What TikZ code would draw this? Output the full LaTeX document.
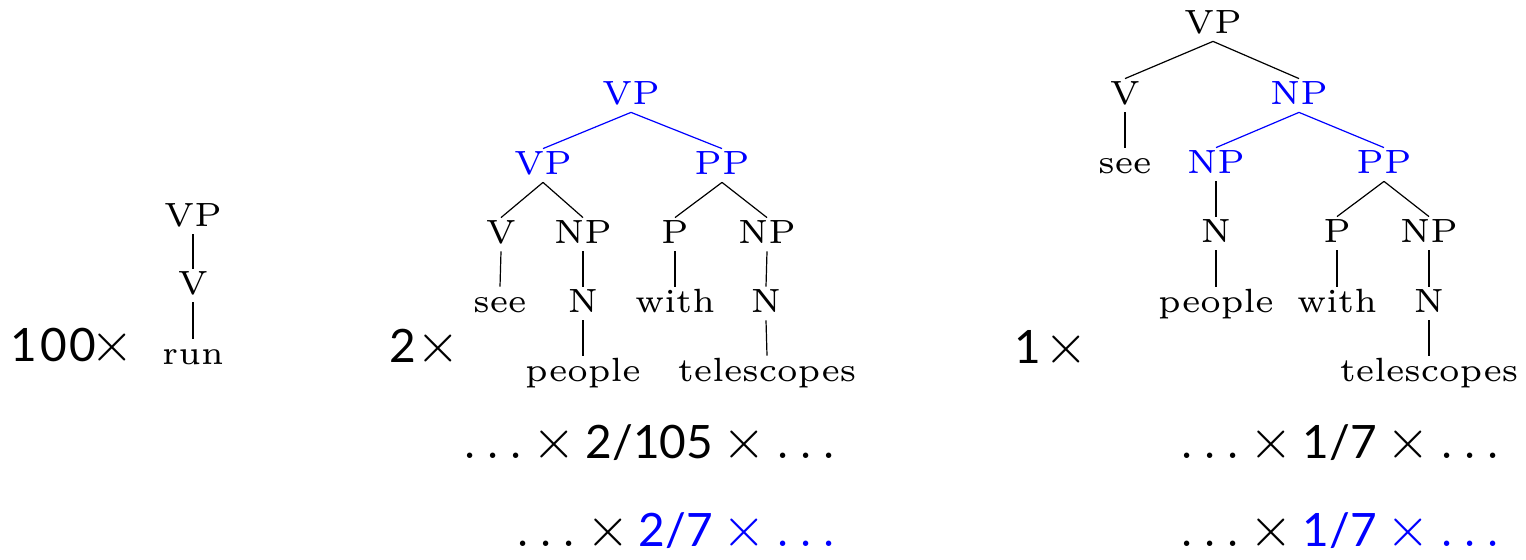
\RequirePackage{fix-cm}
\documentclass[tikz,border=0pt]{standalone}
\usepackage{fontspec}
\usepackage{graphicx}
\newfontfamily\lato{Lato}
\newcommand\tr[1]{\scalebox{2.8}{\fontsize{6}{7}\selectfont #1}}
\newcommand\gs[1]{\mbox{\fontsize{23}{27}\selectfont\lato #1}}
\newcommand\dd{\mathinner{.\mkern2.5mu.\mkern2.5mu.}}
\newcommand\hk{\kern1.5pt\relax}
\medmuskip=3mu\relax
\tikzset{
  tn/.style={inner sep=1.5pt, text height=11.5pt, text depth=2pt, anchor=base},
  bl/.style={text=blue},
  edge/.style={draw=black, line width=0.6pt},
  bedge/.style={draw=blue, line width=0.6pt},
  big/.style={inner sep=0pt, font=\fontsize{28}{32}\selectfont},
}
\begin{document}
\begin{tikzpicture}[x=0.5pt,y=-0.5pt]
\useasboundingbox (0,0) rectangle (1526,560);
% left tree
\node[tn] (l1) at (193,227) {\tr{VP}};
\node[tn] (l2) at (193,295) {\tr{V}};
\node[tn] (l3) at (193,365) {\tr{run}};
\draw[edge] (l1.south) -- (l2.north);
\draw[edge] (l2.south) -- (l3.north);
% middle tree
\node[tn,bl] (m0) at (631,105) {\tr{VP}};
\node[tn,bl] (m1) at (543,175) {\tr{VP}};
\node[tn,bl] (m2) at (722,175) {\tr{PP}};
\node[tn] (m3) at (501,244) {\tr{V}};
\node[tn] (m4) at (583,244) {\tr{NP}};
\node[tn] (m5) at (675,244) {\tr{P}};
\node[tn] (m6) at (767,244) {\tr{NP}};
\node[tn] (m7) at (500,313) {\tr{see}};
\node[tn] (m8) at (583,313) {\tr{N}};
\node[tn] (m9) at (675,313) {\tr{with}};
\node[tn] (m10) at (766,313) {\tr{N}};
\node[tn] (m11) at (583,382) {\tr{people}};
\node[tn] (m12) at (767,382) {\tr{telescopes}};
\draw[bedge] (m0.south) -- (m1.north);
\draw[bedge] (m0.south) -- (m2.north);
\draw[edge] (m1.south) -- (m3.north);
\draw[edge] (m1.south) -- (m4.north);
\draw[edge] (m2.south) -- (m5.north);
\draw[edge] (m2.south) -- (m6.north);
\draw[edge] (m3.south) -- (m7.north);
\draw[edge] (m4.south) -- (m8.north);
\draw[edge] (m5.south) -- (m9.north);
\draw[edge] (m6.south) -- (m10.north);
\draw[edge] (m8.south) -- (m11.north);
\draw[edge] (m10.south) -- (m12.north);
% right tree
\node[tn] (r0) at (1213,34) {\tr{VP}};
\node[tn] (r1) at (1125,105) {\tr{V}};
\node[tn,bl] (r2) at (1299,105) {\tr{NP}};
\node[tn] (r3) at (1125,174) {\tr{see}};
\node[tn,bl] (r4) at (1216,174) {\tr{NP}};
\node[tn,bl] (r5) at (1384,174) {\tr{PP}};
\node[tn] (r6) at (1216,243) {\tr{N}};
\node[tn] (r7) at (1337,243) {\tr{P}};
\node[tn] (r8) at (1429,243) {\tr{NP}};
\node[tn] (r9) at (1216,313) {\tr{people}};
\node[tn] (r10) at (1337,313) {\tr{with}};
\node[tn] (r11) at (1429,313) {\tr{N}};
\node[tn] (r12) at (1429,382) {\tr{telescopes}};
\draw[edge] (r0.south) -- (r1.north);
\draw[edge] (r0.south) -- (r2.north);
\draw[edge] (r1.south) -- (r3.north);
\draw[bedge] (r2.south) -- (r4.north);
\draw[bedge] (r2.south) -- (r5.north);
\draw[edge] (r4.south) -- (r6.north);
\draw[edge] (r5.south) -- (r7.north);
\draw[edge] (r5.south) -- (r8.north);
\draw[edge] (r6.south) -- (r9.north);
\draw[edge] (r7.south) -- (r10.north);
\draw[edge] (r8.south) -- (r11.north);
\draw[edge] (r11.south) -- (r12.north);
% multipliers
\node[big,anchor=base west] (k1) at (10,362) {$\gs{1\hk0\hk0}\mkern-2mu\times$};
\node[big,anchor=base west] (k2) at (389,363) {$\gs{2}\times$};
\node[big,anchor=base west] (k3) at (1014,364) {$\gs{1}\mkern1mu\times$};
% products
\node[big,anchor=base east] (p1) at (837,459) {$\dd\times\gs{2/105}\times\dd$};
\node[big,anchor=base east] (p2) at (837,547) {$\dd\times\color{blue}\gs{2/7}\times\dd$};
\node[big,anchor=base west] (p3) at (1179,459) {$\dd\times\gs{1/7}\times\dd$};
\node[big,anchor=base west] (p4) at (1179,547) {$\dd\times\color{blue}\gs{1/7}\times\dd$};
\end{tikzpicture}
\end{document}
